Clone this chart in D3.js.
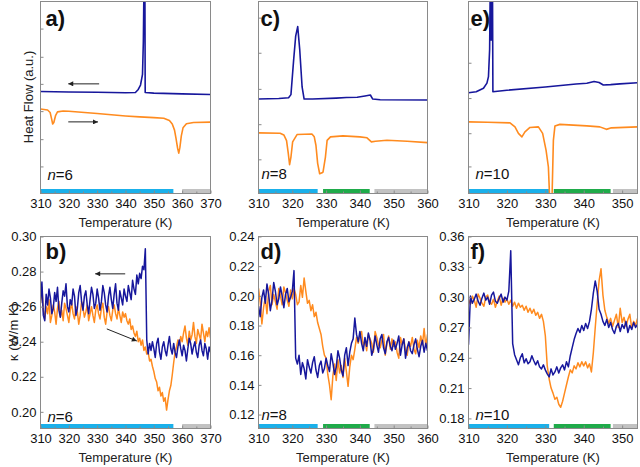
<!DOCTYPE html>
<html><head><meta charset="utf-8">
<script src="https://cdn.jsdelivr.net/npm/d3@7"></script>
<style>body{margin:0;background:#fff}svg text{font-family:"Liberation Sans",Arial,sans-serif}</style>
</head><body><svg id="c" width="640" height="467"></svg>
<script>
// ---------- DSC data (temperature K, heat flow a.u.) ----------
const dscA_cool = [[310,5.31],[320,5.29],[330,5.27],[340,5.25],[343.5,5.26],[344.5,5.42],[345.3,5.65],[346,6.2],[346.3,7.9],[346.5,10.6],[346.85,10.6],[346.95,5.26],[350,5.23],[360,5.19],[370,5.16]];
const dscA_heat = [[310,4.40],[312.5,4.35],[313.4,4.22],[313.9,3.90],[314.3,3.62],[314.7,3.70],[315.3,4.05],[316,4.25],[318,4.30],[320,4.28],[330,4.17],[340,4.04],[345,3.99],[350,3.95],[353.5,3.92],[355.5,3.80],[356.5,3.62],[357.3,3.30],[357.8,2.90],[358.4,2.35],[358.8,2.10],[359.2,2.40],[359.7,3.00],[360.3,3.42],[361.5,3.63],[364,3.70],[370,3.72]];
const dscC_cool = [[310,4.92],[316,4.95],[318.9,4.99],[319.6,5.15],[320.4,6.96],[321.0,8.2],[321.6,8.69],[322.2,7.49],[322.9,5.55],[323.5,4.92],[326,4.92],[333,4.97],[336,5.0],[339.2,5.01],[341.5,5.08],[343.1,5.13],[343.8,4.92],[346,4.88],[360,4.87]];
const dscC_heat = [[310,3.16],[316.4,3.14],[317.5,3.05],[318.3,2.75],[318.8,2.1],[319.2,1.50],[319.6,1.9],[320.1,2.69],[321.4,3.07],[325.8,3.10],[326.5,2.95],[327,2.5],[327.5,1.57],[328.1,1.03],[328.8,1.08],[329.1,1.12],[329.8,1.90],[330.3,2.77],[331.3,2.95],[335,3.0],[340,2.95],[342.1,2.90],[343.4,2.69],[344.6,2.72],[348,2.77],[354,2.72],[360,2.65]];
const dscE_cool = [[310,5.25],[312,5.30],[313.9,5.48],[314.8,5.75],[315.2,6.09],[315.5,7.5],[315.65,10.6],[315.8,8.0],[315.95,10.6],[316.1,8.0],[316.25,10.6],[316.35,5.30],[320,5.38],[330,5.55],[338,5.70],[340.8,5.74],[342.7,5.83],[344,5.78],[345.1,5.65],[347,5.67],[349.4,5.71],[354,5.77]];
const dscE_heat = [[310,3.73],[315,3.71],[320.8,3.68],[322.1,3.47],[323,3.13],[323.9,2.95],[324.7,3.21],[326,3.44],[328.2,3.47],[329.3,3.13],[330.2,2.25],[330.8,1.38],[331.2,-0.6],[331.7,-0.6],[332.1,2.77],[332.5,3.51],[333.8,3.60],[340.8,3.52],[344.2,3.47],[345.9,3.34],[347.2,3.42],[354,3.47]];

// ---------- thermal conductivity data (W/m K), 0.5 K steps ----------
const tempB = d3.range(310, 370.001, 0.5);
const tempD = d3.range(310, 360.001, 0.5);
const tempF = d3.range(310, 354.001, 0.5);

const kappaB_cool = [
0.262,0.274,0.255,0.252,0.267,0.261,0.270,0.265,0.256,0.259,
0.268,0.263,0.271,0.258,0.254,0.262,0.269,0.266,0.273,0.260,
0.257,0.264,0.261,0.270,0.266,0.255,0.259,0.268,0.272,0.263,
0.258,0.266,0.269,0.261,0.256,0.264,0.271,0.267,0.259,0.262,
0.270,0.265,0.258,0.263,0.272,0.268,0.261,0.257,0.266,0.271,
0.264,0.259,0.267,0.273,0.262,0.258,0.269,0.265,0.261,0.270,
0.266,0.263,0.272,0.268,0.264,0.275,0.270,0.267,0.278,0.273,
0.279,0.276,0.283,0.281,0.293,0.241,0.233,0.239,0.235,0.240,
0.236,0.231,0.239,0.242,0.234,0.230,0.237,0.240,0.235,0.232,
0.238,0.243,0.236,0.233,0.239,0.234,0.231,0.237,0.241,0.236,
0.232,0.238,0.235,0.229,0.236,0.242,0.239,0.233,0.237,0.240,
0.234,0.231,0.238,0.241,0.235,0.232,0.239,0.236,0.230,0.237,0.234];
const kappaB_heat = [
0.262,0.271,0.258,0.253,0.260,0.256,0.264,0.251,0.255,0.261,
0.257,0.250,0.259,0.263,0.254,0.258,0.252,0.262,0.259,0.255,
0.251,0.258,0.262,0.256,0.253,0.260,0.257,0.250,0.255,0.263,
0.259,0.254,0.257,0.261,0.252,0.256,0.260,0.255,0.251,0.258,
0.261,0.256,0.253,0.259,0.262,0.254,0.250,0.257,0.260,0.255,
0.252,0.258,0.261,0.256,0.253,0.259,0.255,0.251,0.257,0.254,
0.256,0.252,0.250,0.253,0.247,0.249,0.245,0.243,0.246,0.240,
0.242,0.238,0.241,0.235,0.237,0.233,0.234,0.229,0.230,0.226,
0.223,0.219,0.217,0.212,0.214,0.209,0.211,0.206,0.208,0.201,
0.207,0.212,0.215,0.221,0.228,0.234,0.237,0.241,0.238,0.243,
0.240,0.245,0.249,0.242,0.238,0.246,0.241,0.244,0.251,0.243,
0.239,0.247,0.244,0.241,0.250,0.245,0.240,0.246,0.243,0.248,0.242];

const kappaD_cool = [
0.193,0.186,0.199,0.204,0.195,0.208,0.201,0.190,0.197,0.209,
0.203,0.194,0.198,0.206,0.200,0.192,0.201,0.205,0.196,0.199,
0.203,0.217,0.158,0.154,0.160,0.147,0.155,0.151,0.144,0.157,
0.152,0.148,0.155,0.159,0.150,0.145,0.153,0.156,0.148,0.151,
0.158,0.153,0.149,0.161,0.155,0.147,0.152,0.163,0.158,0.150,
0.146,0.160,0.165,0.153,0.162,0.168,0.171,0.185,0.174,0.169,
0.176,0.168,0.163,0.172,0.166,0.175,0.170,0.160,0.164,0.173,
0.167,0.162,0.171,0.174,0.165,0.161,0.169,0.172,0.166,0.163,
0.170,0.164,0.168,0.173,0.160,0.167,0.171,0.158,0.165,0.169,
0.163,0.161,0.167,0.171,0.164,0.159,0.166,0.170,0.162,0.168,0.163];
const kappaD_heat = [
0.205,0.196,0.181,0.192,0.199,0.188,0.203,0.207,0.194,0.201,
0.196,0.191,0.205,0.200,0.194,0.206,0.202,0.197,0.193,0.204,
0.198,0.205,0.201,0.194,0.196,0.207,0.199,0.212,0.203,0.195,
0.197,0.190,0.194,0.186,0.189,0.182,0.178,0.174,0.166,0.160,
0.158,0.147,0.140,0.130,0.146,0.154,0.143,0.157,0.148,0.153,
0.145,0.158,0.149,0.139,0.152,0.160,0.157,0.164,0.172,0.168,
0.173,0.176,0.166,0.170,0.163,0.174,0.171,0.168,0.162,0.176,
0.172,0.167,0.165,0.170,0.174,0.160,0.168,0.173,0.164,0.171,
0.166,0.169,0.162,0.158,0.172,0.167,0.171,0.163,0.160,0.169,
0.166,0.172,0.164,0.161,0.170,0.165,0.173,0.167,0.178,0.166,0.174];

const kappaF_cool = [
0.253,0.301,0.294,0.298,0.303,0.296,0.292,0.299,0.304,0.297,
0.300,0.293,0.302,0.305,0.296,0.294,0.299,0.303,0.295,0.300,
0.297,0.306,0.346,0.254,0.243,0.238,0.233,0.240,0.244,0.235,
0.239,0.234,0.236,0.242,0.237,0.233,0.237,0.231,0.229,0.233,
0.228,0.224,0.221,0.229,0.223,0.226,0.231,0.225,0.230,0.233,
0.228,0.236,0.231,0.242,0.250,0.258,0.264,0.269,0.265,0.272,
0.267,0.274,0.269,0.276,0.288,0.304,0.316,0.306,0.288,0.283,
0.276,0.272,0.278,0.270,0.275,0.268,0.264,0.271,0.274,0.266,
0.273,0.269,0.276,0.265,0.272,0.268,0.275,0.270,0.273];
const kappaF_heat = [
0.298,0.293,0.301,0.297,0.290,0.303,0.299,0.294,0.291,0.300,
0.302,0.295,0.293,0.298,0.290,0.296,0.301,0.292,0.299,0.295,
0.298,0.293,0.297,0.291,0.295,0.289,0.294,0.290,0.292,0.287,
0.291,0.285,0.289,0.284,0.288,0.282,0.285,0.279,0.283,0.276,
0.262,0.232,0.219,0.210,0.205,0.199,0.201,0.194,0.191,0.197,
0.205,0.213,0.221,0.228,0.225,0.232,0.229,0.235,0.231,0.236,
0.232,0.236,0.230,0.234,0.226,0.245,0.270,0.294,0.316,0.328,
0.302,0.287,0.280,0.274,0.279,0.271,0.277,0.283,0.270,0.289,
0.275,0.280,0.271,0.278,0.283,0.269,0.276,0.272,0.279];

// ---------- phase bars (temperature ranges) ----------
const phasesN6  = [[310,356.9,"I"],[360,370,"III"]];
const phasesN8  = [[310,327.5,"I"],[329.1,342.9,"II"],[344.3,360,"III"]];
const phasesN10 = [[310,331,"I"],[332.2,347,"II"],[347.6,354,"III"]];

// ---------- ticks ----------
const xTicksN6 = [310,320,330,340,350,360,370];
const xTicksN8 = [310,320,330,340,350,360];
const xTicksN10 = [310,320,330,340,350];
const yTicksB = [0.20,0.22,0.24,0.26,0.28,0.30];
const yTicksD = [0.12,0.14,0.16,0.18,0.20,0.22,0.24];
const yTicksF = [0.18,0.21,0.24,0.27,0.30,0.33,0.36];
const hfTicksA = [1.41,2.83,4.29,5.71,7.12,8.59];
const hfTicksC = [1.78,3.61,5.45,7.33,9.16];
const hfTicksE = [1.41,3.14,4.97,6.81,8.59];

// ---------- styles ----------
const COOL = "#17179c", HEAT = "#ff8b1f";
const PHASE_COL = {I:"#1ab0ea", II:"#1fab4a", III:"#c2c2c2"};
const FRAME = "#8a8a8a";

const svg = d3.select("#c");
const defs = svg.append("defs");
defs.append("marker").attr("id","ah").attr("viewBox","0 0 10 10").attr("refX",10).attr("refY",5)
  .attr("markerWidth",7).attr("markerHeight",5).attr("markerUnits","userSpaceOnUse").attr("orient","auto")
  .append("path").attr("d","M0,0L10,5L0,10z").attr("fill","#222");

const cols = [{x0:40.5,x1:210.5},{x0:258.5,x1:427.5},{x0:468.5,x1:637.5}];
const rows = [{y0:1.5,y1:193.5},{y0:236.5,y1:428.5}];

let clipId = 0;
function panel(o){
  const c = cols[o.col], r = rows[o.row];
  const x = d3.scaleLinear().domain(o.xDom).range([c.x0, c.x1]);
  const y = d3.scaleLinear().domain(o.yDom).range([r.y1, r.y0]);
  const id = "clip"+(clipId++);
  defs.append("clipPath").attr("id",id).append("rect")
    .attr("x",c.x0).attr("y",r.y0).attr("width",c.x1-c.x0).attr("height",r.y1-r.y0);
  const g = svg.append("g");
  const inner = g.append("g").attr("clip-path",`url(#${id})`);
  inner.selectAll("rect.ph").data(o.phases).join("rect").attr("class","ph")
    .attr("x",d=>x(d[0])).attr("width",d=>x(d[1])-x(d[0]))
    .attr("y",r.y1-4.5).attr("height",4).attr("fill",d=>PHASE_COL[d[2]]);
  o.series.forEach(s=>{
    const line = d3.line().defined(d=>d[1]!=null).x(d=>x(d[0])).y(d=>y(d[1]));
    inner.append("path").datum(s.data).attr("d",line).attr("fill","none")
      .attr("stroke",s.color).attr("stroke-width",s.w).attr("stroke-linejoin","round");
  });
  g.append("rect").attr("x",c.x0).attr("y",r.y0).attr("width",c.x1-c.x0).attr("height",r.y1-r.y0)
    .attr("fill","none").attr("stroke",FRAME).attr("stroke-width",1);
  const xa = g.append("g").attr("transform",`translate(0,${r.y1})`)
    .call(d3.axisBottom(x).tickValues(o.xTicks).tickSizeInner(-3).tickSizeOuter(0).tickPadding(5).tickFormat(d3.format("d")));
  const minorX = d3.range(o.xDom[0]+5, o.xDom[1], 10);
  g.append("g").attr("transform",`translate(0,${r.y1})`)
    .call(d3.axisBottom(x).tickValues(minorX).tickSizeInner(-2).tickSizeOuter(0).tickFormat(""))
    .call(a=>a.select(".domain").remove()).selectAll("line").attr("stroke",FRAME);
  xa.select(".domain").remove();
  xa.selectAll("line").attr("stroke",FRAME);
  xa.selectAll("text").attr("font-size",13).attr("fill","#111").attr("font-family","Liberation Sans, Arial, sans-serif");
  const ya = g.append("g").attr("transform",`translate(${c.x0},0)`)
    .call(d3.axisLeft(y).tickValues(o.yTicks).tickSizeInner(-3).tickSizeOuter(0).tickPadding(4)
      .tickFormat(o.yLabels ? d3.format(".2f") : ""));
  ya.select(".domain").remove();
  ya.selectAll("line").attr("stroke",FRAME);
  ya.selectAll("text").attr("font-size",13).attr("fill","#111").attr("font-family","Liberation Sans, Arial, sans-serif");
  g.append("text").attr("x",(c.x0+c.x1)/2).attr("y",r.y1+33).attr("text-anchor","middle")
    .attr("font-size",13).attr("fill","#222").text("Temperature (K)");
  g.append("text").attr("x",c.x0+o.lx).attr("y",r.y0+o.ly).attr("font-size",22).attr("font-weight","bold")
    .attr("fill","#111").text(o.letter);
  const nt = g.append("text").attr("x",c.x0+o.nx).attr("y",r.y1+o.ny).attr("font-size",15).attr("fill","#111");
  nt.append("tspan").attr("font-style","italic").text("n");
  nt.append("tspan").text("="+o.n);
  (o.arrows||[]).forEach(a=>{
    g.append("line").attr("x1",x(a[0][0])).attr("y1",y(a[0][1])).attr("x2",x(a[1][0])).attr("y2",y(a[1][1]))
      .attr("stroke","#222").attr("stroke-width",1).attr("marker-end","url(#ah)");
  });
}

const zip = (t,v)=>t.map((d,i)=>[d,v[i]]);

panel({col:0,row:0,xDom:[310,370],yDom:[0,10],xTicks:xTicksN6,yTicks:hfTicksA,yLabels:false,
  phases:phasesN6,letter:"a)",lx:5,ly:24,n:6,nx:7,ny:-14,
  series:[{data:dscA_heat,color:HEAT,w:1.6},{data:dscA_cool,color:COOL,w:1.6}],
  arrows:[[[330.7,5.71],[319.8,5.71]],[[319.8,3.73],[330.3,3.73]]]});
panel({col:1,row:0,xDom:[310,360],yDom:[0,10],xTicks:xTicksN8,yTicks:hfTicksC,yLabels:false,
  phases:phasesN8,letter:"c)",lx:2,ly:24,n:8,nx:3,ny:-15,
  series:[{data:dscC_heat,color:HEAT,w:1.6},{data:dscC_cool,color:COOL,w:1.6}]});
panel({col:2,row:0,xDom:[310,354],yDom:[0,10],xTicks:xTicksN10,yTicks:hfTicksE,yLabels:false,
  phases:phasesN10,letter:"e)",lx:2,ly:24,n:10,nx:7,ny:-15,
  series:[{data:dscE_heat,color:HEAT,w:1.6},{data:dscE_cool,color:COOL,w:1.6}]});

panel({col:0,row:1,xDom:[310,370],yDom:[0.1905,0.30],xTicks:xTicksN6,yTicks:yTicksB,yLabels:true,
  phases:phasesN6,letter:"b)",lx:5,ly:22,n:6,nx:7,ny:-7,
  series:[{data:zip(tempB,kappaB_heat),color:HEAT,w:1.5},{data:zip(tempB,kappaB_cool),color:COOL,w:1.5}],
  arrows:[[[339.9,0.2787],[329.3,0.2787]],[[333.4,0.2473],[344.0,0.2404]]]});
panel({col:1,row:1,xDom:[310,360],yDom:[0.1106,0.24],xTicks:xTicksN8,yTicks:yTicksD,yLabels:true,
  phases:phasesN8,letter:"d)",lx:2,ly:22,n:8,nx:3,ny:-8.5,
  series:[{data:zip(tempD,kappaD_heat),color:HEAT,w:1.5},{data:zip(tempD,kappaD_cool),color:COOL,w:1.5}]});
panel({col:2,row:1,xDom:[310,354],yDom:[0.170,0.36],xTicks:xTicksN10,yTicks:yTicksF,yLabels:true,
  phases:phasesN10,letter:"f)",lx:2,ly:22,n:10,nx:7,ny:-8.5,
  series:[{data:zip(tempF,kappaF_heat),color:HEAT,w:1.5},{data:zip(tempF,kappaF_cool),color:COOL,w:1.5}]});

svg.append("text").attr("transform","translate(28,97) rotate(-90)").attr("text-anchor","middle")
  .attr("dy","0.35em").attr("font-size",13).attr("fill","#222").text("Heat Flow (a.u.)");
svg.append("text").attr("transform","translate(13,332) rotate(-90)").attr("text-anchor","middle")
  .attr("dy","0.35em").attr("font-size",13).attr("fill","#222").text("κ (W/m K)");
</script></body></html>
